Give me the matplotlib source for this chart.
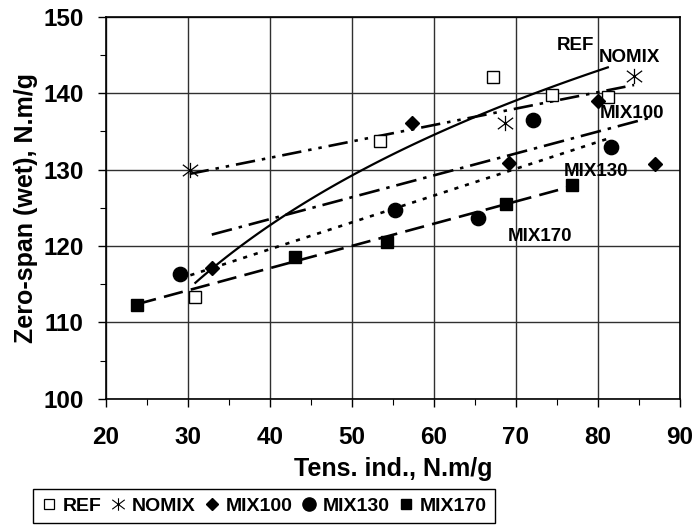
import numpy as np
import matplotlib
matplotlib.use('Agg')
import matplotlib.pyplot as plt
from matplotlib.path import Path
from matplotlib.lines import Line2D

plt.rcParams['font.family'] = ['Liberation Sans', 'DejaVu Sans']
plt.rcParams['font.weight'] = 'bold'
plt.rcParams['lines.scale_dashes'] = False

# values
ref_x = [30.9, 53.4, 67.2, 74.4, 81.2]
ref_y = [113.3, 133.8, 142.1, 139.7, 139.5]
nomix_x = [30.2, 68.6, 84.4]
nomix_y = [129.9, 136.1, 142.2]
mix100_x = [32.9, 57.3, 69.2, 80.0, 87.0]
mix100_y = [117.1, 136.1, 130.9, 139.0, 130.7]
mix130_x = [29.0, 55.3, 65.4, 72.1, 81.6]
mix130_y = [116.3, 124.7, 123.7, 136.5, 133.0]
mix170_x = [23.8, 43.0, 54.3, 68.8, 76.8]
mix170_y = [112.3, 118.6, 120.5, 125.5, 128.0]

series_names = ['REF', 'NOMIX', 'MIX100', 'MIX130', 'MIX170']
x_ticks = [20, 30, 40, 50, 60, 70, 80, 90]
y_ticks = [100, 110, 120, 130, 140, 150]

# asterisk marker (X with a vertical bar)
ast = Path([(0, -1), (0, 1), (-1, -0.75), (1, 0.75), (-1, 0.75), (1, -0.75)],
           [Path.MOVETO, Path.LINETO] * 3)

fig = plt.figure(figsize=(6.96, 5.26), dpi=100)
ax = fig.add_axes([0.1523, 0.242, 0.8247, 0.726])


def lin_trend(x, y):
    p = np.polyfit(x, y, 1)
    xs = np.linspace(min(x), max(x), 50)
    return xs, np.polyval(p, xs)


def log_trend(x, y):
    p = np.polyfit(np.log(x), y, 1)
    xs = np.linspace(min(x), max(x), 80)
    return xs, np.polyval(p, np.log(xs))


# trendlines
lw = 1.9
xs, ys = log_trend(ref_x, ref_y)
ax.plot(xs, ys, color='black', lw=1.6, zorder=3)
xs, ys = lin_trend(nomix_x, nomix_y)
ax.plot(xs, ys, color='black', lw=lw, dashes=(14, 5, 2.5, 5, 2.5, 5), zorder=3)
xs, ys = lin_trend(mix100_x, mix100_y)
ax.plot(xs, ys, color='black', lw=lw, dashes=(15, 5, 2.5, 5), zorder=3)
xs, ys = lin_trend(mix130_x, mix130_y)
ax.plot(xs, ys, color='black', lw=lw, dashes=(3, 5), zorder=3)
xs, ys = lin_trend(mix170_x, mix170_y)
ax.plot(xs, ys, color='black', lw=lw, dashes=(14, 6), zorder=3)

# points
ax.plot(ref_x, ref_y, ls='none', marker='s', ms=8.5, mfc='white', mec='black', mew=1.0, zorder=4)
ax.plot(nomix_x, nomix_y, ls='none', marker=ast, ms=11, mec='black', mew=0.9, zorder=4)
ax.plot(mix100_x, mix100_y, ls='none', marker='D', ms=6.8, color='black', zorder=4)
ax.plot(mix130_x, mix130_y, ls='none', marker='o', ms=10.3, color='black', zorder=4)
ax.plot(mix170_x, mix170_y, ls='none', marker='s', ms=9.2, color='black', zorder=4)

# labels next to the lines
ax.text(77.2, 145.6, 'REF', fontsize=13.5, ha='center', va='baseline', zorder=5)
ax.text(83.8, 144.1, 'NOMIX', fontsize=13.5, ha='center', va='baseline', zorder=5)
ax.text(84.1, 136.7, 'MIX100', fontsize=13.5, ha='center', va='baseline', zorder=5)
ax.text(79.8, 129.1, 'MIX130', fontsize=13.5, ha='center', va='baseline', zorder=5)
ax.text(72.9, 120.7, 'MIX170', fontsize=13.5, ha='center', va='baseline', zorder=5)

ax.set_xlim(20, 90)
ax.set_ylim(100, 150)
ax.set_xticks(x_ticks)
ax.set_yticks(y_ticks)
ax.set_xticks(np.arange(25, 90, 10), minor=True)
ax.set_yticks(np.arange(105, 150, 10), minor=True)
ax.tick_params(which='major', direction='out', length=6, width=1.0, labelsize=17.5)
ax.tick_params(axis='x', which='major', pad=14)
ax.tick_params(axis='y', which='major', pad=10)
ax.tick_params(which='minor', direction='out', length=4, width=0.8)
ax.grid(True, which='major', color='#303030', lw=1.0)
ax.set_axisbelow(True)
for s in ax.spines.values():
    s.set_color('black')
    s.set_linewidth(1.2)

ax.set_xlabel('Tens. ind., N.m/g', fontsize=18, fontweight='bold')
ax.set_ylabel('Zero-span (wet), N.m/g', fontsize=18, fontweight='bold')
ax.xaxis.set_label_coords(0.5, -0.1526)
ax.yaxis.set_label_coords(-0.118, 0.5)

handles = [
    Line2D([], [], ls='none', marker='s', ms=7, mfc='white', mec='black', mew=0.9),
    Line2D([], [], ls='none', marker=ast, ms=9, mec='black', mew=0.8),
    Line2D([], [], ls='none', marker='D', ms=6, color='black'),
    Line2D([], [], ls='none', marker='o', ms=9.5, color='black'),
    Line2D([], [], ls='none', marker='s', ms=7, color='black'),
]
leg = fig.legend(handles, series_names, loc='upper center', bbox_to_anchor=(0.379, 0.0703),
                 ncol=5, frameon=True, fancybox=False, edgecolor='black', framealpha=1,
                 prop={'size': 14, 'weight': 'bold'},
                 handlelength=0.8, handletextpad=0.3, columnspacing=0.45,
                 borderpad=0.42, borderaxespad=0)
leg.get_frame().set_linewidth(1.0)

fig.savefig('out.png', dpi=100)
